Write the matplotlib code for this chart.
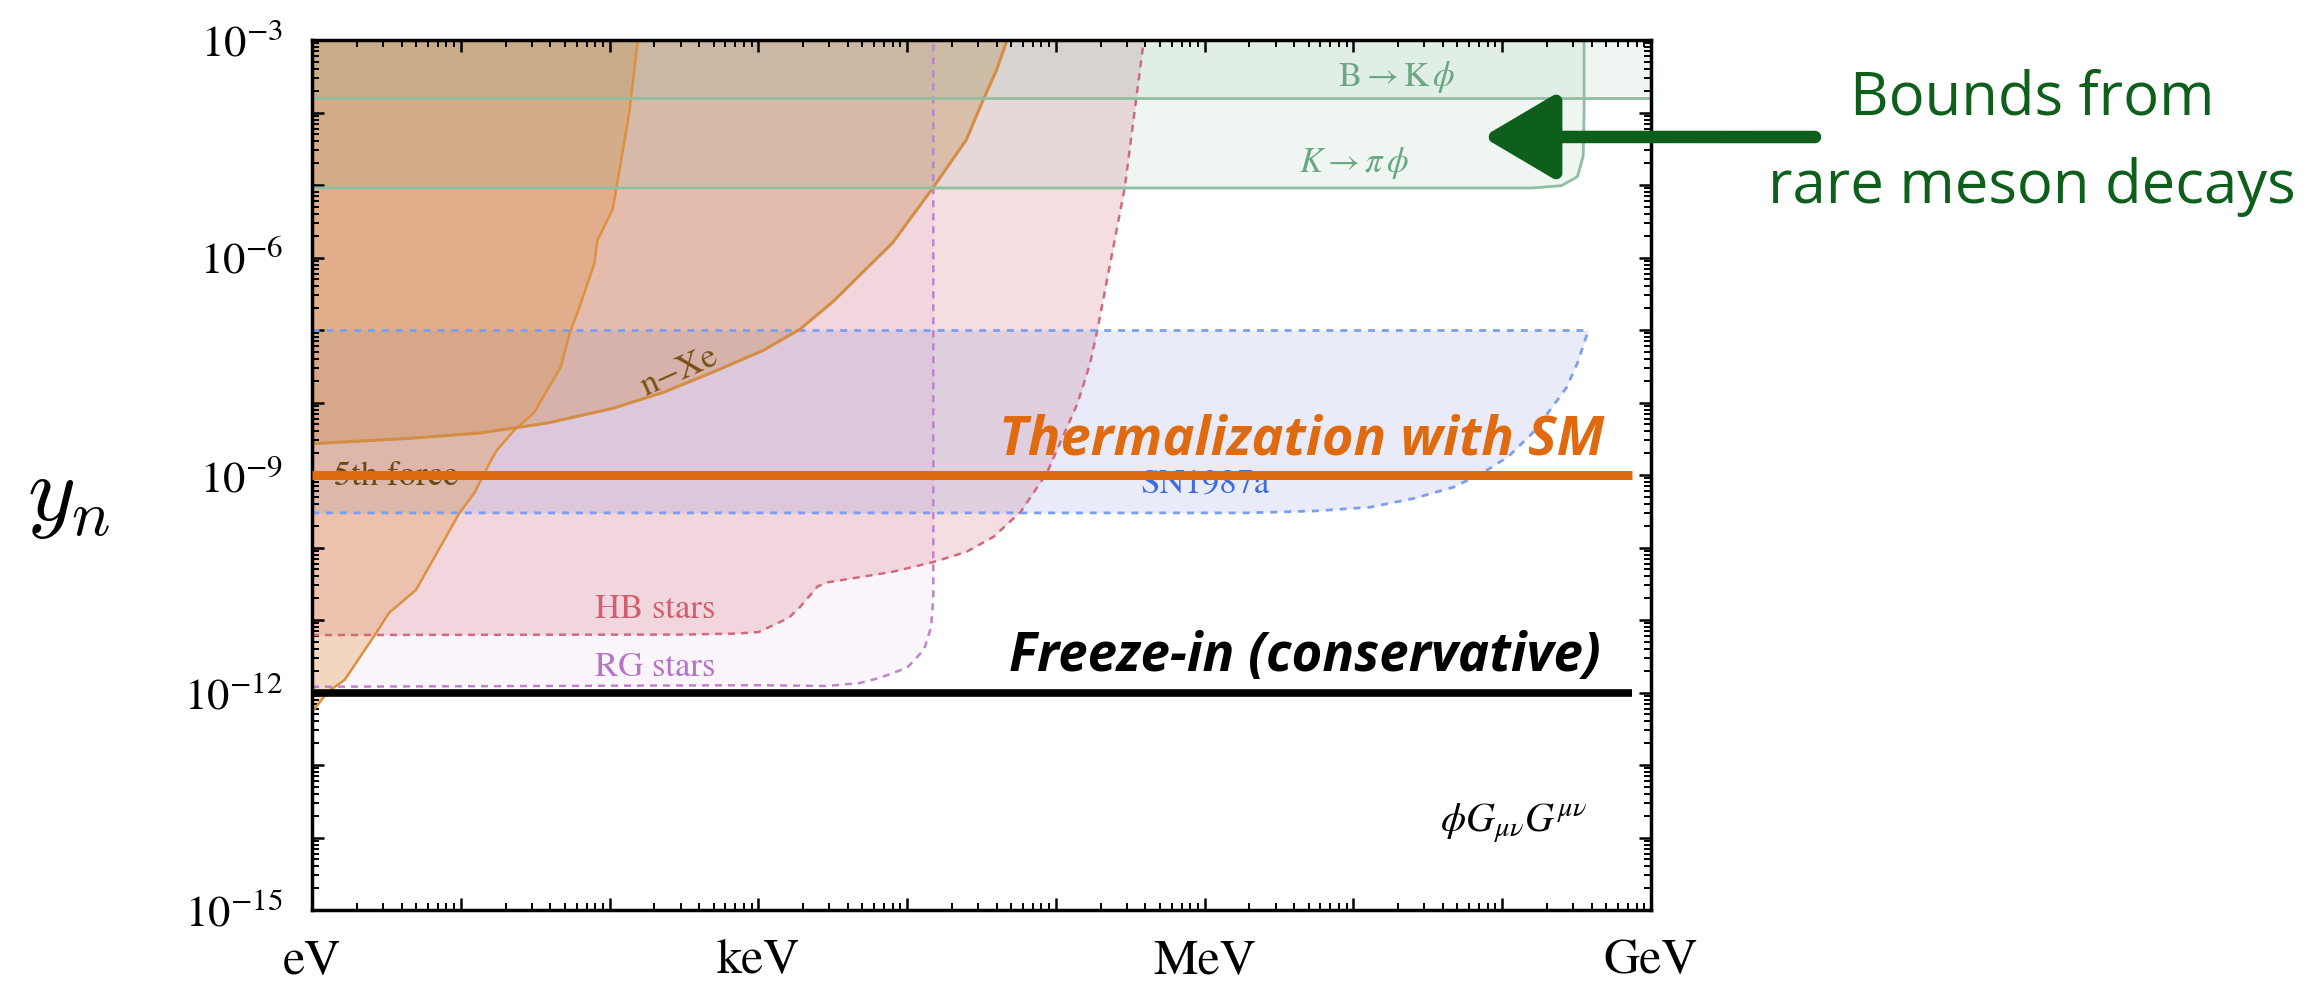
import numpy as np
import matplotlib
matplotlib.use("Agg")
import matplotlib.pyplot as plt
from matplotlib.ticker import LogLocator, FuncFormatter, NullFormatter

plt.rcParams['mathtext.fontset'] = 'stix'
plt.rcParams['font.family'] = ['STIXGeneral', 'DejaVu Serif']

# ---- exclusion bounds for phi G G coupling: mass [eV] vs y_n ----------------------------
fifth_mass = [155, 135, 105, 83, 79, 63, 54, 47, 31, 23, 17.5, 16, 12.3, 9.8, 5.0, 3.3, 2.6,
              1.66, 1.26, 1.12, 1.0]
fifth_y = [1e-3, 9.3e-5, 4.6e-6, 1.74e-6, 8.3e-7, 2.1e-7, 9.1e-8, 3.1e-8, 7.2e-9, 4.2e-9,
           2.2e-9, 1.6e-9, 5.6e-10, 3.0e-10, 2.6e-11, 1.26e-11, 5.9e-12, 1.5e-12, 1.0e-12,
           7.2e-13, 5.4e-13]

nxe_mass = [1, 4.5, 13.5, 38, 105, 230, 490, 1.07e3, 1.9e3, 3.2e3, 5.0e3, 8.0e3, 1.0e4,
            1.5e4, 2.5e4, 3.2e4, 4.0e4, 4.7e4]
nxe_y = [2.7e-9, 3.2e-9, 3.8e-9, 5.2e-9, 8.3e-9, 1.38e-8, 2.6e-8, 5.2e-8, 1.02e-7, 2.5e-7,
         6.2e-7, 1.6e-6, 3.0e-6, 9.3e-6, 4.2e-5, 1.4e-4, 3.9e-4, 1e-3]

hb_mass = [1, 316, 710, 1.0e3, 1.6e3, 1.9e3, 2.5e3, 2.9e3, 7.9e3, 1.5e4, 2.5e4, 3.8e4, 5.8e4,
           8.7e4, 1.07e5, 1.4e5, 1.7e5, 1.9e5, 2.9e5, 3.9e5]
hb_y = [6.2e-12, 6.3e-12, 6.5e-12, 6.8e-12, 1.07e-11, 1.5e-11, 2.9e-11, 3.3e-11, 4.6e-11,
        6.3e-11, 8.7e-11, 1.4e-10, 3.1e-10, 1.07e-9, 2.8e-9, 9.8e-9, 3.5e-8, 1e-7, 9.1e-6, 1e-3]

rg_mass = [1, 1e3, 2.9e3, 4.8e3, 6.6e3, 1.0e4, 1.3e4, 1.45e4, 1.5e4, 1.5e4]
rg_y = [1.2e-12, 1.26e-12, 1.23e-12, 1.35e-12, 1.6e-12, 2.2e-12, 3.9e-12, 8e-12, 2e-11, 1e-3]

sn_mass = [1, 1.9e6, 5.6e6, 1.3e7, 2.6e7, 4.7e7, 7.4e7, 1.1e8, 1.6e8, 2.1e8, 2.7e8, 3.2e8, 3.8e8]
sn_lo = [3.0e-10, 3.0e-10, 3.2e-10, 3.6e-10, 4.8e-10, 6.8e-10, 1.07e-9, 1.8e-9, 3.8e-9,
         7.9e-9, 1.6e-8, 3.5e-8, 1e-7]
SN_TOP = 1e-7

kpi_mass = [1, 1.6e8, 2.5e8, 3.2e8, 3.5e8, 3.55e8, 3.55e8]
kpi_y = [9.1e-6, 9.1e-6, 9.8e-6, 1.3e-5, 2.5e-5, 1e-4, 1e-3]
BK_Y = 1.6e-4

THERMAL_Y = 1e-9
FREEZE_Y = 1e-12
LINE_END = 7.5e8

M_MIN, M_MAX = 1, 1e9
Y_MIN, Y_TOP = 1e-15, 1e-3
mass_names = {0: 'eV', 3: 'keV', 6: 'MeV', 9: 'GeV'}

fig = plt.figure(figsize=(23.23, 9.82), dpi=100)
ax = fig.add_axes([312 / 2323, 72 / 982, 1339 / 2323, 870 / 982])
ax.set_xscale('log'); ax.set_yscale('log')
ax.set_xlim(M_MIN, M_MAX); ax.set_ylim(Y_MIN, Y_TOP)

# shaded regions
ax.fill_between(rg_mass, rg_y, Y_TOP, color='#c080c8', alpha=0.08, lw=0)
ax.fill_between(hb_mass, hb_y, Y_TOP, color='#d05a6e', alpha=0.2, lw=0)
ax.fill_between(sn_mass, sn_lo, SN_TOP, color='#5069cd', alpha=0.12, lw=0)
ax.fill_betweenx(fifth_y, M_MIN, fifth_mass, color='#e1913c', alpha=0.3, lw=0)
ax.fill_between(nxe_mass, nxe_y, Y_TOP, color='#c8823c', alpha=0.3, lw=0)
ax.fill_between(kpi_mass, kpi_y, Y_TOP, color='#64aa82', alpha=0.1, lw=0)
ax.axhspan(BK_Y, Y_TOP, color='#64aa82', alpha=0.1, lw=0)

# boundaries
ax.plot(rg_mass, rg_y, color='#bf82cc', lw=1.8, ls=(0, (2.8, 2.4)))
ax.plot(hb_mass, hb_y, color='#d06a7c', lw=1.8, ls=(0, (2.8, 2.4)))
ax.plot(sn_mass, sn_lo, color='#7b9ef0', lw=2, ls=(0, (2.5, 2.5)))
ax.plot([M_MIN, sn_mass[-1]], [SN_TOP, SN_TOP], color='#7b9ef0', lw=2, ls=(0, (2.5, 2.5)))
ax.plot(fifth_mass, fifth_y, color='#dc9040', lw=1.8)
ax.plot(nxe_mass, nxe_y, color='#d38d45', lw=2.2)
ax.plot(kpi_mass, kpi_y, color='#8fbfa0', lw=2)
ax.axhline(BK_Y, color='#8fbfa0', lw=2)

# region labels
serif = dict(family=['STIXGeneral', 'DejaVu Serif'], fontsize=25)
ax.text(1.4, 7.2e-10, '5th force', color='#6b4a12', ha='left', va='baseline', **serif)
ax.text(297, 2.6e-8, 'n\u2212Xe', color='#7a5015', ha='center', va='center', rotation=24,
        rotation_mode='anchor', **serif)
ax.text(202, 1.07e-11, 'HB stars', color='#d0606f', ha='center', va='baseline', **serif)
ax.text(202, 1.7e-12, 'RG stars', color='#b574c4', ha='center', va='baseline', **serif)
ax.text(1.0e6, 5.8e-10, 'SN1987a', color='#3f6be0', ha='center', va='baseline', **serif)
ax.text(1.96e7, 2.3e-4, r'$\mathrm{B}\rightarrow\mathrm{K}\,\phi$', color='#6aa882',
        ha='center', va='baseline', fontsize=25)
ax.text(1.0e7, 1.5e-5, r'$K\rightarrow\pi\,\phi$', color='#6aa882', ha='center',
        va='baseline', fontsize=25)
ax.text(1.2e8, 1.2e-14, r'$\phi G_{\mu\nu}G^{\mu\nu}$', color='black', ha='center',
        va='baseline', fontsize=29)

# thermalisation / freeze-in thresholds
ax.plot([M_MIN, LINE_END], [THERMAL_Y, THERMAL_Y], color='#e06a10', lw=6.5,
        solid_capstyle='butt', zorder=5)
ax.plot([M_MIN, LINE_END], [FREEZE_Y, FREEZE_Y], color='black', lw=5.5,
        solid_capstyle='butt', zorder=5)
sans = ['Open Sans', 'DejaVu Sans']
ax.text(4.5e6, 1.9e-9, 'Thermalization with SM', color='#e06a10', family=sans,
        weight='bold', style='italic', fontsize=39, ha='center', va='baseline', zorder=6)
ax.text(4.7e6, 2.0e-12, 'Freeze-in (conservative)', color='black', family=sans,
        weight='bold', style='italic', fontsize=38, ha='center', va='baseline', zorder=6)

# axes styling
ax.xaxis.set_major_locator(LogLocator(base=10, numticks=15))
ax.xaxis.set_minor_locator(LogLocator(base=10, subs=np.arange(2, 10), numticks=15))
ax.yaxis.set_major_locator(LogLocator(base=10, numticks=15))
ax.yaxis.set_minor_locator(LogLocator(base=10, subs=np.arange(2, 10), numticks=15))
ax.xaxis.set_major_formatter(FuncFormatter(
    lambda v, p: mass_names.get(int(round(np.log10(v))), '')))
ax.yaxis.set_major_formatter(FuncFormatter(
    lambda v, p: rf'$10^{{{int(round(np.log10(v)))}}}$' if int(round(np.log10(v))) % 3 == 0 else ''))
ax.xaxis.set_minor_formatter(NullFormatter())
ax.yaxis.set_minor_formatter(NullFormatter())
ax.tick_params(which='both', direction='in', top=True, right=True)
ax.tick_params(which='major', length=8.5, width=1.8)
ax.tick_params(which='minor', length=5, width=1.4)
ax.tick_params(axis='x', which='major', labelsize=36, pad=21)
ax.tick_params(axis='y', which='major', labelsize=32, pad=21)
for s in ax.spines.values():
    s.set_linewidth(2.5)

fig.text(0.0297, 0.491, r'$y_n$', math_fontfamily='cm', fontsize=66, ha='center', va='center')

# callout for the meson-decay bounds
green = '#0e5f1b'
ax.annotate('', xy=(7.4e7, 4.6e-5), xycoords='data', xytext=(1.1225, 0.8885),
            textcoords='axes fraction', annotation_clip=False,
            arrowprops=dict(arrowstyle='-|>,head_length=4.4,head_width=2.6', mutation_scale=10,
                            color=green, lw=9, shrinkA=0, shrinkB=0, capstyle='round'))
fig.text(0.8747, 0.883, 'Bounds from', color=green, family=sans, weight='medium',
         fontsize=43, ha='center', va='baseline')
fig.text(0.8747, 0.793, 'rare meson decays', color=green, family=sans, weight='medium',
         fontsize=43, ha='center', va='baseline')

fig.savefig('out.png', dpi=100)
